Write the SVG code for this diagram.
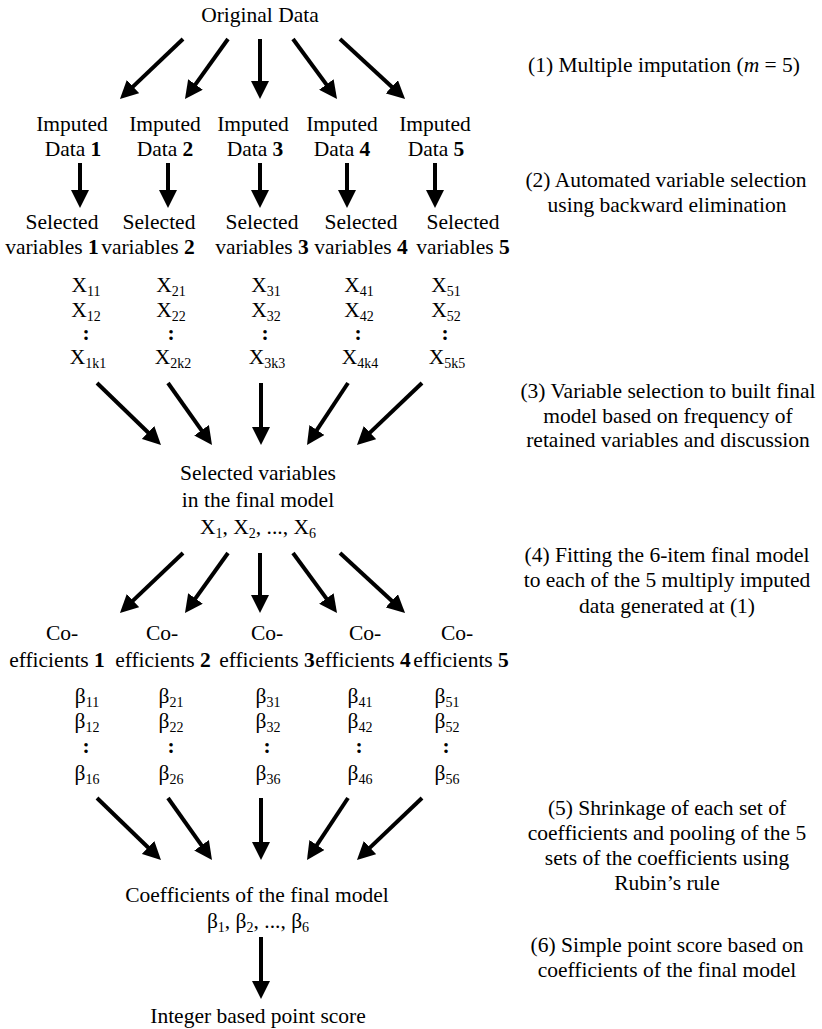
<svg xmlns="http://www.w3.org/2000/svg" width="822" height="1029" viewBox="0 0 822 1029">
<style>
text{font-family:'Liberation Serif','Times New Roman',Tinos,'DejaVu Serif','Noto Serif',serif;font-size:21.5px;fill:#000;text-anchor:middle}
.b{font-weight:bold}
.s{font-size:14px}
.i{font-style:italic}
line{stroke:#000;stroke-width:4;marker-end:url(#ah)}
</style>
<defs>
<marker id="ah" markerUnits="userSpaceOnUse" markerWidth="18" markerHeight="18" refX="8" refY="9" orient="auto">
<path d="M0,0 L18,9 L0,18 z" fill="#000"/>
</marker>
</defs>
<rect width="822" height="1029" fill="#fff"/>
<g id="connectors">
<line x1="183" y1="39" x2="127.2" y2="92.1"/>
<line x1="228" y1="39" x2="190.8" y2="90.9"/>
<line x1="260" y1="39" x2="260" y2="89"/>
<line x1="293" y1="39" x2="331.1" y2="90.9"/>
<line x1="340" y1="39" x2="397.7" y2="92.2"/>
<line x1="80" y1="163" x2="80" y2="198"/>
<line x1="168" y1="163" x2="168" y2="198"/>
<line x1="260" y1="163" x2="260" y2="198"/>
<line x1="347" y1="163" x2="347" y2="198"/>
<line x1="435" y1="163" x2="435" y2="198"/>
<line x1="97" y1="383" x2="153.8" y2="438"/>
<line x1="168" y1="383" x2="206.2" y2="436.8"/>
<line x1="261" y1="383" x2="261" y2="435"/>
<line x1="348" y1="383" x2="312.5" y2="436.7"/>
<line x1="422" y1="383" x2="364.2" y2="438.1"/>
<line x1="183" y1="553" x2="127.2" y2="606.1"/>
<line x1="228" y1="553" x2="190.8" y2="604.9"/>
<line x1="260" y1="553" x2="260" y2="603"/>
<line x1="293" y1="553" x2="331.1" y2="604.9"/>
<line x1="340" y1="553" x2="397.7" y2="606.2"/>
<line x1="97" y1="798" x2="153.8" y2="853"/>
<line x1="168" y1="798" x2="206.2" y2="851.8"/>
<line x1="261" y1="798" x2="261" y2="850"/>
<line x1="348" y1="798" x2="312.5" y2="851.7"/>
<line x1="422" y1="798" x2="364.2" y2="853.1"/>
<line x1="261" y1="937" x2="261" y2="989"/>
</g>
<g id="original"><text x="260" y="22">Original Data</text></g>
<g id="imputed1"><text x="72" y="131">Imputed</text><text x="73" y="156">Data <tspan class="b">1</tspan></text></g>
<g id="imputed2"><text x="165" y="131">Imputed</text><text x="165" y="156">Data <tspan class="b">2</tspan></text></g>
<g id="imputed3"><text x="253" y="131">Imputed</text><text x="255" y="156">Data <tspan class="b">3</tspan></text></g>
<g id="imputed4"><text x="342" y="131">Imputed</text><text x="342" y="156">Data <tspan class="b">4</tspan></text></g>
<g id="imputed5"><text x="435" y="131">Imputed</text><text x="436" y="156">Data <tspan class="b">5</tspan></text></g>
<g id="selected1"><text x="62" y="229">Selected</text><text x="52" y="254">variables <tspan class="b">1</tspan></text></g>
<g id="selected2"><text x="159" y="229">Selected</text><text x="148" y="254">variables <tspan class="b">2</tspan></text></g>
<g id="selected3"><text x="262" y="229">Selected</text><text x="262" y="254">variables <tspan class="b">3</tspan></text></g>
<g id="selected4"><text x="361" y="229">Selected</text><text x="361" y="254">variables <tspan class="b">4</tspan></text></g>
<g id="selected5"><text x="463" y="229">Selected</text><text x="463" y="254">variables <tspan class="b">5</tspan></text></g>
<g id="xvars1"><text x="86" y="292">X<tspan class="s" dy="4">11</tspan></text><text x="86" y="317">X<tspan class="s" dy="4">12</tspan></text><text x="86" y="340" class="b">:</text><text x="88" y="364">X<tspan class="s" dy="4">1k1</tspan></text></g>
<g id="xvars2"><text x="171" y="292">X<tspan class="s" dy="4">21</tspan></text><text x="171" y="317">X<tspan class="s" dy="4">22</tspan></text><text x="171" y="340" class="b">:</text><text x="173" y="364">X<tspan class="s" dy="4">2k2</tspan></text></g>
<g id="xvars3"><text x="266" y="292">X<tspan class="s" dy="4">31</tspan></text><text x="266" y="317">X<tspan class="s" dy="4">32</tspan></text><text x="265" y="340" class="b">:</text><text x="267" y="364">X<tspan class="s" dy="4">3k3</tspan></text></g>
<g id="xvars4"><text x="359" y="292">X<tspan class="s" dy="4">41</tspan></text><text x="359" y="317">X<tspan class="s" dy="4">42</tspan></text><text x="358" y="340" class="b">:</text><text x="360" y="364">X<tspan class="s" dy="4">4k4</tspan></text></g>
<g id="xvars5"><text x="446" y="292">X<tspan class="s" dy="4">51</tspan></text><text x="446" y="317">X<tspan class="s" dy="4">52</tspan></text><text x="445" y="340" class="b">:</text><text x="447" y="364">X<tspan class="s" dy="4">5k5</tspan></text></g>
<g id="finalvars"><text x="258" y="480">Selected variables</text><text x="258" y="507">in the final model</text><text x="258" y="534">X<tspan class="s" dy="4">1</tspan><tspan dy="-4">, X</tspan><tspan class="s" dy="4">2</tspan><tspan dy="-4">, ..., X</tspan><tspan class="s" dy="4">6</tspan></text></g>
<g id="coef1"><text x="62" y="640">Co-</text><text x="57" y="667">efficients <tspan class="b">1</tspan></text></g>
<g id="coef2"><text x="162" y="640">Co-</text><text x="163" y="667">efficients <tspan class="b">2</tspan></text></g>
<g id="coef3"><text x="267" y="640">Co-</text><text x="267" y="667">efficients <tspan class="b">3</tspan></text></g>
<g id="coef4"><text x="365" y="640">Co-</text><text x="363" y="667">efficients <tspan class="b">4</tspan></text></g>
<g id="coef5"><text x="457" y="640">Co-</text><text x="461" y="667">efficients <tspan class="b">5</tspan></text></g>
<g id="betas1"><text x="87" y="703">β<tspan class="s" dy="4">11</tspan></text><text x="87" y="728">β<tspan class="s" dy="4">12</tspan></text><text x="86" y="753" class="b">:</text><text x="87" y="780">β<tspan class="s" dy="4">16</tspan></text></g>
<g id="betas2"><text x="171" y="703">β<tspan class="s" dy="4">21</tspan></text><text x="171" y="728">β<tspan class="s" dy="4">22</tspan></text><text x="171" y="753" class="b">:</text><text x="171" y="780">β<tspan class="s" dy="4">26</tspan></text></g>
<g id="betas3"><text x="268" y="703">β<tspan class="s" dy="4">31</tspan></text><text x="268" y="728">β<tspan class="s" dy="4">32</tspan></text><text x="267" y="753" class="b">:</text><text x="268" y="780">β<tspan class="s" dy="4">36</tspan></text></g>
<g id="betas4"><text x="360" y="703">β<tspan class="s" dy="4">41</tspan></text><text x="360" y="728">β<tspan class="s" dy="4">42</tspan></text><text x="359" y="753" class="b">:</text><text x="360" y="780">β<tspan class="s" dy="4">46</tspan></text></g>
<g id="betas5"><text x="447" y="703">β<tspan class="s" dy="4">51</tspan></text><text x="447" y="728">β<tspan class="s" dy="4">52</tspan></text><text x="446" y="753" class="b">:</text><text x="447" y="780">β<tspan class="s" dy="4">56</tspan></text></g>
<g id="finalcoef"><text x="257" y="902">Coefficients of the final model</text><text x="258" y="928">β<tspan class="s" dy="4">1</tspan><tspan dy="-4">, β</tspan><tspan class="s" dy="4">2</tspan><tspan dy="-4">, ..., β</tspan><tspan class="s" dy="4">6</tspan></text></g>
<g id="score"><text x="258" y="1023">Integer based point score</text></g>
<g id="step1"><text x="664" y="72">(1) Multiple imputation (<tspan class="i">m</tspan> = 5)</text></g>
<g id="step2"><text x="666" y="187">(2) Automated variable selection</text><text x="667" y="212">using backward elimination</text></g>
<g id="step3"><text x="668" y="398">(3) Variable selection to built final</text><text x="668" y="423">model based on frequency of</text><text x="668" y="447">retained variables and discussion</text></g>
<g id="step4"><text x="667" y="562">(4) Fitting the 6-item final model</text><text x="667" y="587">to each of the 5 multiply imputed</text><text x="667" y="613">data generated at (1)</text></g>
<g id="step5"><text x="667" y="815">(5) Shrinkage of each set of</text><text x="667" y="840">coefficients and pooling of the 5</text><text x="667" y="865">sets of the coefficients using</text><text x="667" y="890">Rubin’s rule</text></g>
<g id="step6"><text x="667" y="952">(6) Simple point score based on</text><text x="667" y="977">coefficients of the final model</text></g>
</svg>
